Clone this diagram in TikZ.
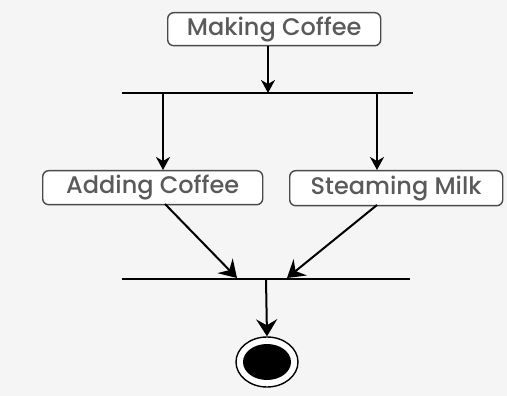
\documentclass[tikz,border=0pt]{standalone}
\usepackage{fontspec}
\setmainfont{Poppins Medium}
\usetikzlibrary{arrows.meta,shapes.geometric}
\definecolor{bg}{HTML}{F5F5F5}
\definecolor{txt}{HTML}{5A5A5A}
\definecolor{frame}{HTML}{4A4A4A}
\begin{document}
\begin{tikzpicture}[x=1pt,y=-1pt,
  action/.style={draw=frame,line width=1.4pt,rounded corners=6pt,fill=white,
    text=txt,font=\fontsize{24}{27}\selectfont,inner sep=0pt,anchor=north west},
  bar/.style={line width=2pt,black},
  flow/.style={line width=2pt,black,-{Stealth[length=13pt,width=14pt,inset=4pt]}},
  bigflow/.style={line width=2pt,black,-{Stealth[length=17pt,width=21pt,inset=6pt]}}]
\fill[bg] (0,0) rectangle (507,396);
\useasboundingbox (0,0) rectangle (507,396);
% action nodes
\node[action,minimum width=213pt,minimum height=33pt] (make) at (167,12) {Making Coffee};
\node[action,minimum width=220pt,minimum height=34pt] (add) at (42,170) {Adding Coffee};
\node[action,minimum width=213pt,minimum height=35pt] (milk) at (289,170) {Steaming Milk};
% fork and join bars
\coordinate (forkL) at (122,93);
\coordinate (forkR) at (413,93);
\coordinate (joinL) at (122,279);
\coordinate (joinR) at (410,279);
\draw[bar] (forkL) -- (forkR);
\draw[bar] (joinL) -- (joinR);
\coordinate (forkIn) at (268,93);
\coordinate (forkA) at (163,93);
\coordinate (forkB) at (377,93);
\coordinate (joinA) at (237,278);
\coordinate (joinB) at (287,278);
\coordinate (joinOut) at (266,279);
% final node
\node[draw=black,line width=1.4pt,fill=white,ellipse,minimum width=62pt,minimum height=50pt,inner sep=0pt] (final) at (267,362) {};
\fill[black] (final.center) ellipse [x radius=24pt,y radius=18pt];
% flows
\draw[flow] (make.south -| forkIn) -- (forkIn);
\draw[flow] (forkA) -- (forkA |- add.north);
\draw[flow] (forkB) -- (forkB |- milk.north);
\draw[bigflow] (165,204) -- (joinA);
\draw[bigflow] (377,205) -- (joinB);
\draw[bigflow] (joinOut) -- (final.north);
\end{tikzpicture}
\end{document}
